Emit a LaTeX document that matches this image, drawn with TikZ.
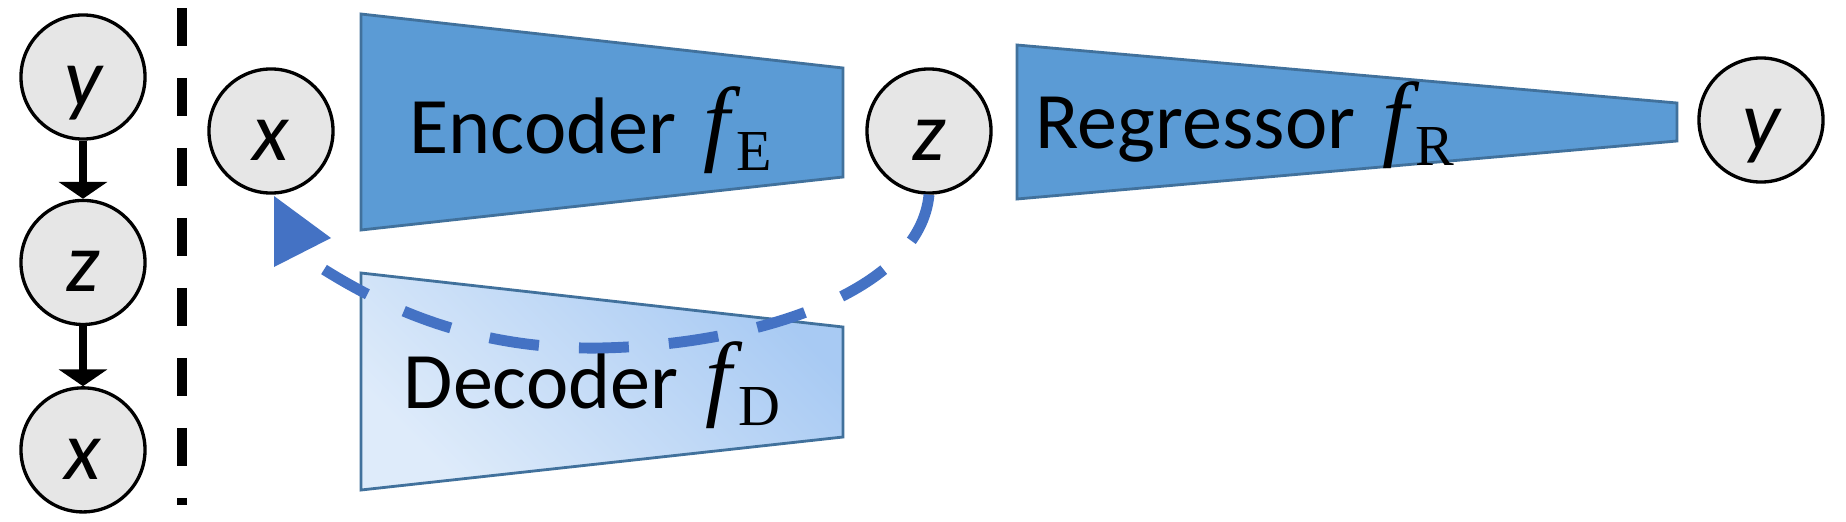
\documentclass[tikz,border=0pt]{standalone}
\usepackage[no-math]{fontspec}
\setmainfont{Carlito}
\newfontfamily\mathserif{Liberation Serif}
\newcommand{\fsub}[1]{\hspace{2.5pt}{\mathserif\itshape\fontsize{27}{30}\selectfont f}\kern2pt%
  \raisebox{-5pt}{\mathserif\fontsize{16.5}{18}\selectfont #1}}
\usetikzlibrary{arrows.meta, positioning}
\definecolor{EncBlue}{RGB}{91,155,213}
\definecolor{EncEdge}{RGB}{65,113,156}
\definecolor{DecLight}{RGB}{222,235,250}
\definecolor{DecDark}{RGB}{168,202,243}
\definecolor{NodeGray}{RGB}{230,230,230}
\definecolor{ReconBlue}{RGB}{68,114,196}
\tikzset{
  latent/.style={circle, draw=black, line width=0.95pt, fill=NodeGray,
                 minimum size=1.24cm, inner sep=0pt,
                 font=\fontsize{24}{28}\selectfont\itshape,
                 text height=16.6pt, text depth=0pt},
  trap/.style={draw=EncEdge, line width=0.8pt, fill=#1},
  lbl/.style={anchor=base west, inner sep=0pt,
              font=\fontsize{22.8}{27}\selectfont},
  arr/.style={-{Triangle[length=4.8pt, width=13.7pt]}, line width=2.4pt, color=black},
  sepline/.style={line width=2.85pt, dash pattern=on 10.8pt off 9.1pt},
  recon/.style={line width=3.1pt, color=ReconBlue, dash pattern=on 14.2pt off 11.4pt},
}
\begin{document}
\begin{tikzpicture}[x=0.01cm, y=-0.01cm]
  \useasboundingbox (0,0) rectangle (1846,521);
  % generative model
  \node[latent] (y0) at (83,77) {y};
  \node[latent, below=0.58cm of y0] (z0) {z};
  \node[latent, below=0.60cm of z0] (x0) {x};
  \draw[arr] (y0) -- (z0);
  \draw[arr] (z0) -- (x0);

  \draw[sepline] (182,8) -- (182,505);

  % encoder / decoder / regressor
  \draw[trap=EncBlue] (361,14) -- (843,68) -- (843,177) -- (361,230) -- cycle;
  \draw[draw=EncEdge, line width=0.8pt, top color=DecDark, bottom color=DecLight,
        shading angle=-45] (361,273) -- (843,327) -- (843,437) -- (361,490) -- cycle;
  \draw[trap=EncBlue] (1017,45) -- (1677,103) -- (1677,141) -- (1017,199) -- cycle;

  \node[lbl] (enc) at (409,153) {Encoder \fsub{E}};
  \node[lbl] (dec) at (403,408) {Decoder \fsub{D}};
  \node[lbl] (reg) at (1035,148) {Regressor \fsub{R}};

  \node[latent] (xin) at (271,131) {x};
  \node[latent] (zlat) at (929,131) {z};
  \node[latent] (yout) at (1761,120) {y};

  % reconstruction
  \coordinate (xend) at (320,267);
  \draw[recon] (zlat.south) .. controls (920,290) and (760,345) .. (600,348)
    .. controls (470,350) and (380,305) .. (xend);
  \fill[ReconBlue] (274,196) -- (274,267) -- (331,238) -- cycle;
\end{tikzpicture}
\end{document}
